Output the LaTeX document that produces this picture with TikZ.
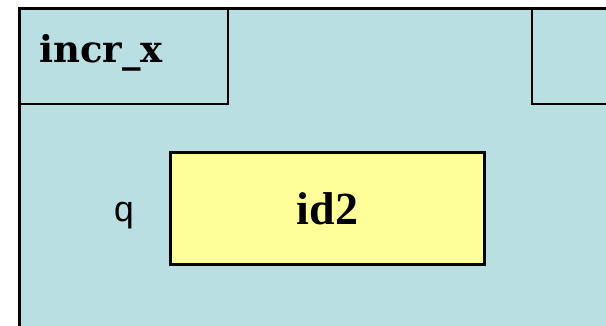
\documentclass[tikz,border=0pt]{standalone}
\usepackage{fontspec}
\usetikzlibrary{positioning}
\setmainfont{Liberation Serif}
\newfontfamily\slabfont{DejaVu Serif}
\setmonofont{Liberation Mono}
\definecolor{framebg}{HTML}{B9DFE3}
\definecolor{valuebg}{HTML}{FFFF99}
\tikzset{
  frameline/.style={draw=black, line width=2.5pt},
  valuebox/.style={frameline, fill=valuebg, minimum width=314pt, minimum height=112pt, inner sep=0pt}
}

\begin{document}
\begin{tikzpicture}[x=1pt,y=-1pt]
\useasboundingbox (0,0) rectangle (606,326);
\clip (0,0) rectangle (606,326);
% frame body and tabs
\draw [frameline, fill=framebg] (19.5,8.5) rectangle (640,360);
\draw [frameline] (19.5,8.5) rectangle (228,104);
\draw [frameline] (532,8.5) rectangle (640,104);
\node [anchor=base west, inner sep=0pt, font=\slabfont\bfseries\fontsize{37}{40}\selectfont] (fname) at (39,63) {incr\_x};
% variable q
\node [valuebox] (qval) at (327.5,208.5) {\bfseries\fontsize{46}{50}\selectfont id2};
\node [anchor=base east, inner sep=0pt, font=\ttfamily\fontsize{36}{40}\selectfont] (qname) at (135,222) {q};
\end{tikzpicture}
\end{document}
